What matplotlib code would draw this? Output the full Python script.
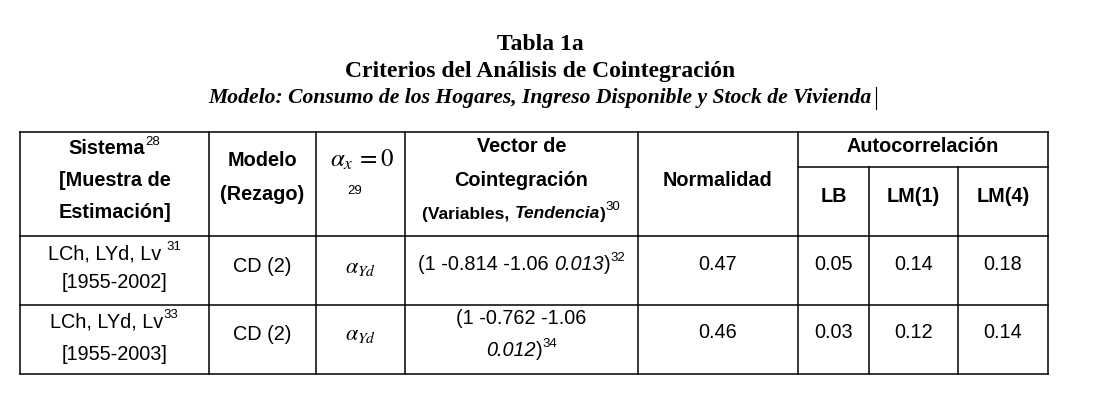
import matplotlib
matplotlib.use("Agg")
import matplotlib.pyplot as plt

plt.rcParams['mathtext.fontset'] = 'stix'

title = "Tabla 1a"
subtitle = "Criterios del Análisis de Cointegración"
model_line = "Modelo: Consumo de los Hogares, Ingreso Disponible y Stock de Vivienda"

sistemas = ["LCh, LYd, Lv", "LCh, LYd, Lv"]
sistema_notas = ["31", "33"]
muestras = ["[1955-2002]", "[1955-2003]"]
modelos = ["CD (2)", "CD (2)"]
vectores = [("1 -0.814 -1.06", "0.013", "32"), ("1 -0.762 -1.06", "0.012", "34")]
normalidad = ["0.47", "0.46"]
lb = ["0.05", "0.03"]
lm1 = ["0.14", "0.12"]
lm4 = ["0.18", "0.14"]

W, H = 1102, 400
fig = plt.figure(figsize=(W / 100, H / 100), dpi=100)
ax = fig.add_axes([0, 0, 1, 1])
ax.set_xlim(0, W)
ax.set_ylim(H, 0)
ax.axis('off')
renderer = fig.canvas.get_renderer()

SANS = 'Liberation Sans'
SERIF = 'Liberation Serif'
FS = 14.3
SUP = 9.5


def runs(xc, y, parts):
    # parts: (text, size, weight, style, dy) drawn left to right, centred on xc
    objs = []
    for txt, size, weight, style, dy in parts:
        t = ax.text(0, y + dy, txt, fontsize=size, fontweight=weight, fontstyle=style,
                    family=SANS, ha='left', va='center')
        objs.append(t)
    widths = [t.get_window_extent(renderer).width for t in objs]
    x = xc - sum(widths) / 2
    for t, w in zip(objs, widths):
        t.set_x(x)
        x += w


def ctext(x, y, s, size=FS, weight='normal', style='normal', family=SANS):
    ax.text(x, y, s, fontsize=size, fontweight=weight, fontstyle=style,
            family=family, ha='center', va='center')


# titles
ctext(540, 45, title, size=17, weight='bold', family=SERIF)
ctext(540, 72, subtitle, size=17, weight='bold', family=SERIF)
ctext(540, 98, model_line, size=15.6, weight='bold', style='italic', family=SERIF)
ax.plot([876, 876], [87, 109], color='black', lw=0.8)

# grid
cols = [20, 209, 316, 405, 638, 798, 869, 958, 1048]
top, head, r1, r2 = 132, 236, 305, 374
lw = 1.1
for yy in [top, head, r1, r2]:
    ax.plot([cols[0], cols[-1]], [yy, yy], color='black', lw=lw)
ax.plot([cols[5], cols[-1]], [167, 167], color='black', lw=lw)
for i, xx in enumerate(cols):
    y0 = 167 if i in (6, 7) else top
    ax.plot([xx, xx], [y0, r2], color='black', lw=lw)

mid = [(cols[i] + cols[i + 1]) / 2 for i in range(len(cols) - 1)]

# header
runs(mid[0], 148, [("Sistema", FS, 'bold', 'normal', 0), ("28", SUP, 'normal', 'normal', -6)])
ctext(mid[0], 181, "[Muestra de", weight='bold')
ctext(mid[0], 213, "Estimación]", weight='bold')
ctext(mid[1], 161, "Modelo", weight='bold')
ctext(mid[1], 195, "(Rezago)", weight='bold')
ax.text(mid[2] + 1, 160, r"$\alpha_x\,=0$", fontsize=18, ha='center', va='center')
ax.text(355, 191, "29", fontsize=SUP, family=SANS, ha='center', va='center')
ctext(mid[3], 147, "Vector de", weight='bold')
ctext(mid[3], 180, "Cointegración", weight='bold')
runs(mid[3], 214, [("(Variables, ", 12.5, 'bold', 'normal', 0),
                   ("Tendencia", 12.5, 'bold', 'italic', 0),
                   (")", 12.5, 'bold', 'normal', 0),
                   ("30", SUP, 'normal', 'normal', -7)])
ctext(mid[4], 180, "Normalidad", weight='bold')
ctext((cols[5] + cols[8]) / 2, 146, "Autocorrelación", weight='bold')
ctext(mid[5], 197, "LB", weight='bold')
ctext(mid[6], 197, "LM(1)", weight='bold')
ctext(mid[7], 197, "LM(4)", weight='bold')

# rows
row_y = [(254, 283, 267), (322, 355, 334)]
for i in range(2):
    ya, yb, yc = row_y[i]
    sep = " " if i == 0 else ""
    runs(mid[0], ya, [(sistemas[i] + sep, FS, 'normal', 'normal', 0),
                      (sistema_notas[i], SUP, 'normal', 'normal', -7)])
    ctext(mid[0], yb, muestras[i])
    ctext(mid[1], yc, modelos[i])
    ax.text(mid[2], yc + 1, r"$\alpha_{Yd}$", fontsize=16, ha='center', va='center')
    nums, trend, note = vectores[i]
    if i == 0:
        runs(mid[3], yc - 2, [("(" + nums + " ", FS, 'normal', 'normal', 0),
                              (trend, FS, 'normal', 'italic', 0),
                              (")", FS, 'normal', 'normal', 0),
                              (note, SUP, 'normal', 'normal', -7)])
    else:
        ctext(mid[3], ya - 3, "(" + nums)
        runs(mid[3], yb - 4, [(trend, FS, 'normal', 'italic', 0),
                              (")", FS, 'normal', 'normal', 0),
                              (note, SUP, 'normal', 'normal', -7)])
    ctext(mid[4], yc - 2, normalidad[i])
    ctext(mid[5], yc - 2, lb[i])
    ctext(mid[6], yc - 2, lm1[i])
    ctext(mid[7], yc - 2, lm4[i])

fig.savefig("out.png", dpi=100)
